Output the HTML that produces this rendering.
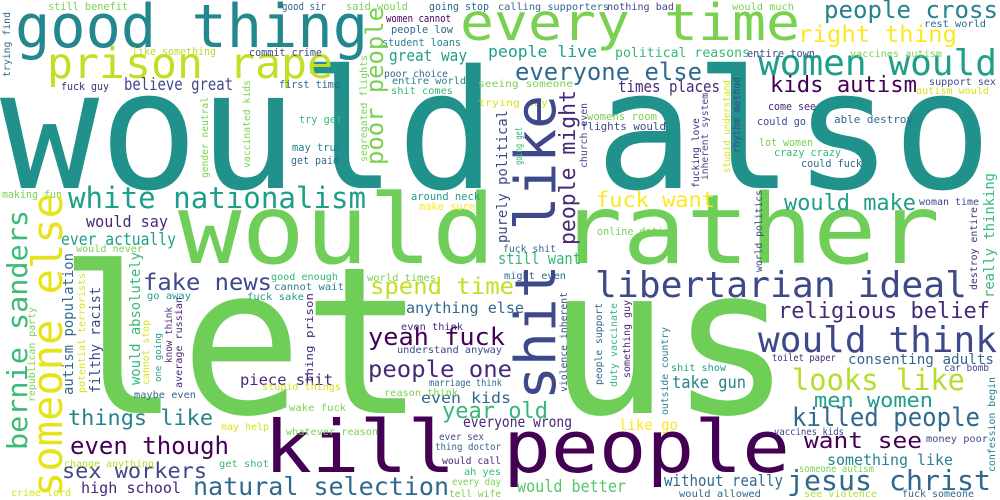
<!DOCTYPE html>
<html><head><meta charset="utf-8"><title>Word cloud</title>
<style>
html,body{margin:0;padding:0;background:#fff;overflow:hidden}
svg{display:block}
text{font-family:"DejaVu Sans Mono","Liberation Mono",monospace}
</style></head>
<body>
<svg id="cloud" width="1000" height="500" viewBox="0 0 1000 500" xmlns="http://www.w3.org/2000/svg">
<rect width="1000" height="500" fill="#fff"/>
</svg>
<script>
const P0="#440154",P1="#482878",P2="#3e4989",P3="#31688e",P4="#26828e",P5="#1f9e89",P6="#35b779",LG="#7ad151",YG="#b5de2b",Y="#fde725",YL="#d8e219";
// horizontal words: [text, x1, x2, baselineY, size, color]
const hWords=[
["would also",0,992,188,165,"#21918c"],
["let us",58,792,413,205,"#6ece58"],
["would rather",178,940,263,96,"#6ece58"],
["kill people",264,790,472,72,P0],
["good thing",15,368,47,60,"#23888e"],
["every time",460,800,40,51,LG],
["prison rape",47,333,78,43,"#c2df23"],
["white nationalism",68,366,208,29,P5],
["women would",758,997,75,36,P5],
["people cross",824,998,18,24,P4],
["right thing",798,957,42,23.5,Y],
["everyone else",515,702,80,24,P3],
["kids autism",770,917,92,22,P0],
["people live",488,597,57,16,P5],
["political reasons",615,750,57,13,P6],
["entire town",747,815,57,11,P2],
["vaccines autism",850,942,57,10,LG],
["calling supporters",498,609,10,10,P3],
["nothing bad",607,674,10,10,P2],
["would much",732,794,10,10,LG],
["rest world",924,986,27,10,P3],
["support sex",929,996,85,10,P2],
["autism would",916,989,94,10,YL],
["times places",618,720,92,16,P1],
["seeing someone",478,573,87,10,LG],
["trying say",478,548,106,10,YL],
["come see",768,816,110,11,P1],
["could go",757,806,125,11,P2],
["able destroy",834,913,123,11,P3],
["lot women",759,813,146,11,LG],
["crazy crazy",774,841,156,11,P6],
["could fuck",801,862,167,11,P3],
["womens room",587,657,120,11,LG],
["flights would",581,666,130,11,P2],
["fuck want",596,715,207,21,Y],
["would make",784,916,210,22,P5],
["woman time",919,979,205,10,P2],
["online dating",597,676,235,11,LG],
["libertarian ideal",595,967,297,36,P2],
["religious belief",778,990,318,22,P1],
["would think",758,997,352,36,P2],
["consenting adults",848,994,364,14,P3],
["toilet paper",772,836,361,10,P1],
["car bomb",944,989,371,10,P2],
["shit show",671,726,371,10,P5],
["looks like",792,965,390,29,YG],
["take gun",672,746,388,17,P4],
["men women",814,933,407,20,P5],
["killed people",792,980,426,26,P3],
["want see",804,922,448,22,P0],
["something like",827,953,465,15,P4],
["jesus christ",787,991,490,28,P3],
["would better",517,626,492,17,"#56c667"],
["without really",664,783,486,16,P3],
["like go",619,678,430,15,Y],
["vaccines kids",774,844,435,10,P2],
["money poor",926,988,442,10,P2],
["someone autism",799,874,472,10,LG],
["see violence",804,877,497,10,YG],
["fuck someone",902,974,497,10,P3],
["would allowed",679,761,497,10,P3],
["still want",498,581,264,16,P6],
["might even",504,566,279,10,P3],
["fuck shit",503,556,252,10,P3],
["everyone wrong",463,572,427,15,P1],
["year old",442,548,418,22,P6],
["people one",368,512,377,23,P1],
["yeah fuck",368,505,345,24,P0],
["anything else",406,524,313,15,P3],
["spend time",370,514,294,23,"#c2df23"],
["even kids",421,511,403,15,P3],
["fake news",143,272,290,23,P2],
["things like",68,213,425,21,P4],
["even though",70,229,454,24,P0],
["sex workers",62,207,478,21,P2],
["high school",81,181,493,15,P1],
["natural selection",193,449,495,25,P3],
["piece shit",240,333,385,15,P1],
["stupid things",262,341,390,10,YL],
["reason think",384,458,396,10,LG],
["marriage think",429,502,386,10,P3],
["understand anyway",397,502,353,10,P2],
["even think",401,463,330,10,P1],
["world times",367,436,281,10,LG],
["good enough",271,338,280,10,P6],
["cannot wait",274,344,290,10,P4],
["fuck sake",247,304,300,10,P5],
["go away",147,191,299,10,P5],
["maybe even",134,196,398,10,P3],
["wake fuck",289,346,411,10,LG],
["whatever reason",286,378,435,10,LG],
["may help",221,269,430,10,YL],
["get shot",219,269,467,10,P6],
["change anything",64,154,467,10,YG],
["crime lord",11,71,496,10,YL],
["ever sex",439,484,440,10,P2],
["thing doctor",435,501,450,10,P3],
["would call",442,501,464,10,P1],
["ah yes",464,501,475,10,P6],
["every day",452,501,485,10,LG],
["tell wife",449,501,497,10,LG],
["still benefit",48,128,10,11,LG],
["good sir",282,326,10,11,P3],
["said would",346,408,10,11,LG],
["going stop",429,489,10,11,P3],
["women cannot",386,451,22,11,P0],
["people low",391,453,33,11,P3],
["student loans",382,461,46,11,P4],
["like something",132,216,55,11,YG],
["commit crime",249,322,56,11,P2],
["great way",389,467,61,16,P5],
["fuck guy",61,109,90,11,P1],
["believe great",124,233,90,17,P2],
["first time",279,340,88,11,P3],
["poor choice",384,448,77,10,P3],
["entire world",392,466,84,10,P4],
["shit comes",391,453,94,10,P6],
["try get",299,342,123,11,P6],
["may true",292,342,151,11,P4],
["get paid",291,339,164,11,P3],
["making fun",2,62,198,11,LG],
["around neck",411,480,200,11,P5],
["make sure",419,475,210,11,Y],
["would say",86,168,227,16,P1],
["ever actually",61,176,245,17,P5],
["would never",76,143,252,10,LG]
];
// vertical words (read upward): [text, baselineX, yBottom, yTop, size, color]
const vWords=[
["someone else",62,497,193,42,"#e6e419"],
["bernie sanders",27,450,210,28,"#3bbb75"],
["shit like",555,400,95,56,P2],
["people might",575,245,90,22,P1],
["purely political",507,243,110,14,P2],
["poor people",383,165,7,24,LG],
["segregated flights",367,162,55,10,LG],
["gender neutral",208,178,97,10,LG],
["vaccinated kids",250,168,80,10,LG],
["trying find",10,77,12,10,P3],
["church even",587,168,103,10,P2],
["going get",522,165,127,10,P6],
["fucking love",699,188,118,10,P1],
["inherent system",708,180,93,10,P2],
["stupid understand",730,173,80,10,YL],
["rhythm method",740,153,77,10,P2],
["really thinking",994,298,173,14,P6],
["destroy entire",977,290,207,10,P1],
["world politics",762,272,190,10,P2],
["violence inherent",567,392,292,10,P2],
["people support",602,385,303,10,P3],
["duty vaccinate",617,387,303,10,P6],
["something guy",630,378,300,10,P1],
["outside country",668,415,327,10,P4],
["confession begin",995,472,377,10,P4],
["autism population",73,395,253,14,P3],
["filthy racist",100,393,287,14,P2],
["potential terrorists",85,393,273,10,YL],
["would absolutely",140,385,252,14,P6],
["republican party",35,402,307,10,LG],
["cannot stop",149,385,320,10,YL],
["one going",161,382,333,9,P5],
["know think",172,363,307,10,P1],
["average russian",182,388,297,10,P1],
["thing prison",313,383,293,11,P1]
];
const hText=hWords.map(w=>w[0]), hX1=hWords.map(w=>w[1]), hX2=hWords.map(w=>w[2]), hY=hWords.map(w=>w[3]), hSize=hWords.map(w=>w[4]), hColor=hWords.map(w=>w[5]);
const vText=vWords.map(w=>w[0]), vX=vWords.map(w=>w[1]), vY1=vWords.map(w=>w[2]), vY2=vWords.map(w=>w[3]), vSize=vWords.map(w=>w[4]), vColor=vWords.map(w=>w[5]);
const NS="http://www.w3.org/2000/svg";
const svg=document.getElementById('cloud');
function slug(t){return t.replace(/\s+/g,'-');}
hText.forEach((txt,i)=>{
  const t=document.createElementNS(NS,'text');
  t.setAttribute('x',hX1[i]);
  t.setAttribute('y',hY[i]);
  t.setAttribute('font-size',hSize[i]);
  t.setAttribute('fill',hColor[i]);
  t.setAttribute('textLength',hX2[i]-hX1[i]);
  t.setAttribute('lengthAdjust','spacingAndGlyphs');
  t.textContent=txt;
  
  
  svg.appendChild(t);
});
vText.forEach((txt,i)=>{
  const t=document.createElementNS(NS,'text');
  t.setAttribute('x',0);
  t.setAttribute('y',0);
  t.setAttribute('font-size',vSize[i]);
  t.setAttribute('fill',vColor[i]);
  t.setAttribute('textLength',vY1[i]-vY2[i]);
  t.setAttribute('lengthAdjust','spacingAndGlyphs');
  t.setAttribute('transform','translate('+vX[i]+','+vY1[i]+') rotate(-90)');
  t.textContent=txt;
  
  
  svg.appendChild(t);
});
</script>
</body></html>
